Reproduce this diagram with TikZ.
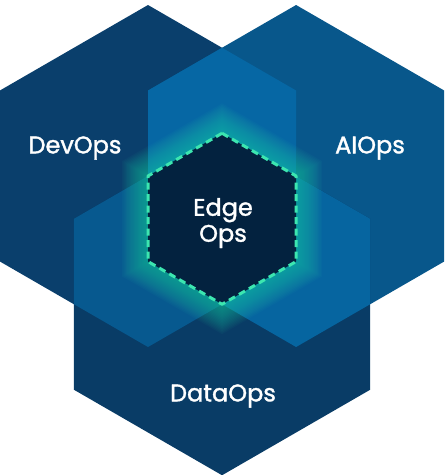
\documentclass[tikz,border=0pt]{standalone}
\usepackage{fontspec}
\setmainfont{Poppins}
\newfontfamily\lblfont{Poppins}[FakeBold=1.5]
\definecolor{devc}{HTML}{0A3F6C}
\definecolor{aic}{HTML}{08578B}
\definecolor{datac}{HTML}{093C66}
\definecolor{devai}{HTML}{0667A4}
\definecolor{devdata}{HTML}{07598F}
\definecolor{aidata}{HTML}{0665A0}
\definecolor{corec}{HTML}{03223F}
\definecolor{glowc}{HTML}{22CFA8}
\definecolor{dashc}{HTML}{3CE6B0}
\newcommand{\hexat}[3]{({#1},{#2-(#3)}) -- ({#1+0.8660254*(#3)},{#2-0.5*(#3)}) -- ({#1+0.8660254*(#3)},{#2+0.5*(#3)}) -- ({#1},{#2+(#3)}) -- ({#1-0.8660254*(#3)},{#2+0.5*(#3)}) -- ({#1-0.8660254*(#3)},{#2-0.5*(#3)}) -- cycle}
\tikzset{lbl/.style={text=white, font=\lblfont\fontsize{24}{26}\selectfont, align=center, inner sep=0pt}}
\begin{document}
\begin{tikzpicture}[x=1pt,y=-1pt]
\useasboundingbox (0,0) rectangle (446,475);
\def\R{171}
\def\ax{148}\def\ay{176}
\def\bx{296.1}\def\by{176}
\def\cx{222.05}\def\cy{304.25}
\def\mx{222.05}\def\my{218.75}
% base hexagons
\fill[devc] \hexat{\ax}{\ay}{\R};
\fill[aic] \hexat{\bx}{\by}{\R};
\fill[datac] \hexat{\cx}{\cy}{\R};
% pairwise overlaps
\begin{scope}\clip \hexat{\ax}{\ay}{\R}; \fill[devai] \hexat{\bx}{\by}{\R}; \end{scope}
\begin{scope}\clip \hexat{\ax}{\ay}{\R}; \fill[devdata] \hexat{\cx}{\cy}{\R}; \end{scope}
\begin{scope}\clip \hexat{\bx}{\by}{\R}; \fill[aidata] \hexat{\cx}{\cy}{\R}; \end{scope}
% glow
\foreach \k in {1,...,20} {
  \fill[glowc, fill opacity=0.045] \hexat{\mx}{\my}{85.5+1.5*\k};
}
% core
\fill[corec] \hexat{\mx}{\my}{85.5};
\draw[dashc, line width=3pt, dash pattern=on 7pt off 4.5pt, line join=round] \hexat{\mx}{\my}{85.5};
% labels
\node[lbl] (dev) at (75,148) {DevOps};
\node[lbl] (ai) at (370,148) {AIOps};
\node[lbl] (data) at (223,396) {DataOps};
\node[lbl] (edge) at (223,223) {Edge\\Ops};
\end{tikzpicture}
\end{document}
